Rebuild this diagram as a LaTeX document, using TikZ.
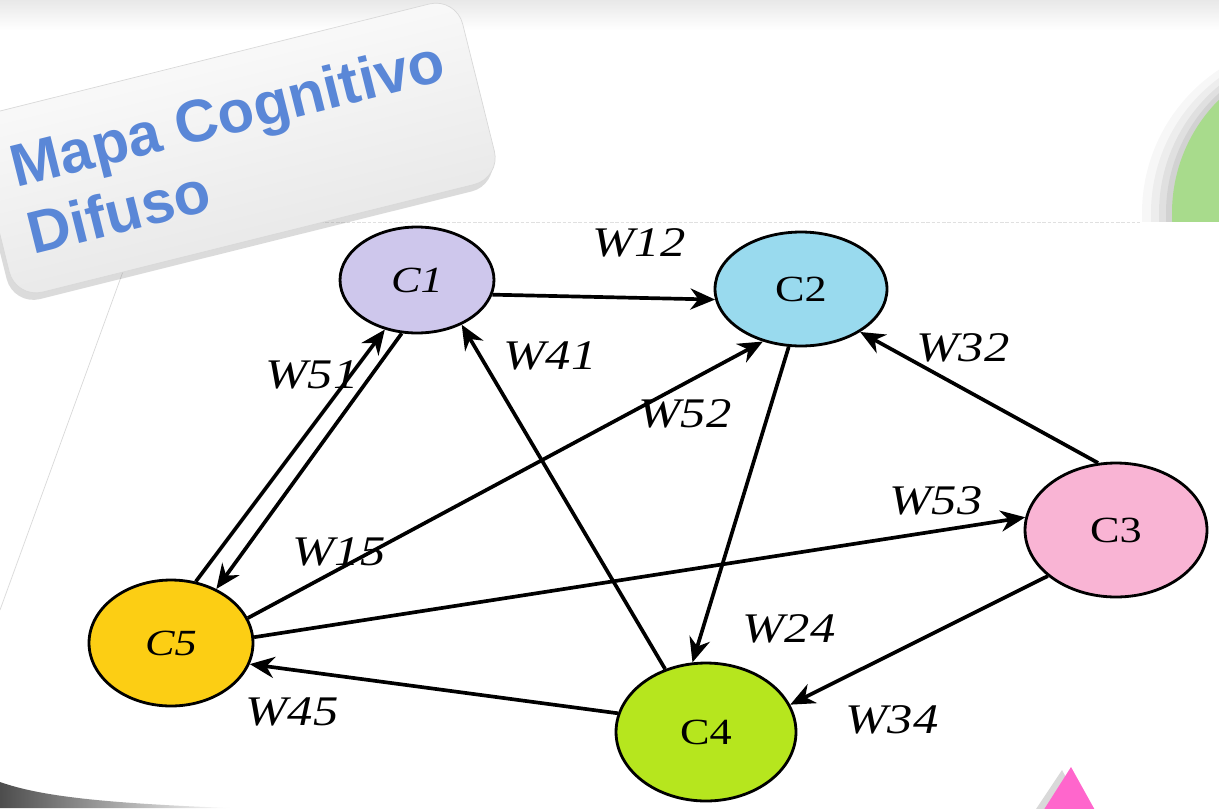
\documentclass[tikz,border=0pt]{standalone}
\usepackage{fontspec}
\setmainfont{Liberation Serif}
\newfontfamily\titlefont{Liberation Sans}
\usetikzlibrary{arrows.meta,shadows,shapes.geometric}
\definecolor{cone}{RGB}{206,199,236}
\definecolor{ctwo}{RGB}{153,218,238}
\definecolor{cthree}{RGB}{249,180,212}
\definecolor{cfour}{RGB}{182,230,30}
\definecolor{cfive}{RGB}{252,206,20}
\definecolor{titleblue}{RGB}{90,135,215}
\definecolor{leafgreen}{RGB}{168,219,140}
\definecolor{pinktri}{RGB}{255,102,204}
\newcommand\wlab[1]{\scalebox{1.2}[1]{\fontsize{24}{26}\selectfont\itshape #1}}
\newcommand\clab[1]{\scalebox{1.2}[1]{\fontsize{21}{24}\selectfont #1}}
\begin{document}
\begin{tikzpicture}[x=0.02cm,y=-0.02cm,
  concept/.style={ellipse, draw=black, line width=1.6pt, inner sep=0pt},
  arr/.style={line width=2.1pt, -{Stealth[length=14pt,width=12pt,inset=4.5pt]}},
  wl/.style={inner sep=0pt},
  titlebox/.style={rectangle, rounded corners=0.55cm, draw=black!15, line width=0.4pt,
    top color=white, bottom color=white!89!black, shading angle=14,
    drop shadow={shadow xshift=-1.5pt, shadow yshift=-4pt, opacity=0.28}},
  titletext/.style={inner sep=0pt, text=titleblue, align=left,
    font=\titlefont\bfseries\fontsize{34}{39.5}\selectfont}
]
\useasboundingbox (0,0) rectangle (1219,808);
\clip (0,0) rectangle (1219,808);
\fill[white] (0,0) rectangle (1219,808);
\shade[top color=black!9, bottom color=white] (0,0) rectangle (1219,30);

% green circle (partly hidden)
\fill[black,opacity=0.03] (1314,213) circle (172);
\fill[black,opacity=0.04] (1319,213) circle (168);
\fill[black,opacity=0.05] (1324,213) circle (165);
\fill[black,opacity=0.06] (1328,213) circle (162);
\fill[leafgreen] (1332,213) circle (160);

% paper sheet
\fill[white] (141,222) -- (1219,222) -- (1219,808) -- (0,808) -- (0,610) -- cycle;
\draw[black!12, line width=0.5pt, dash pattern=on 2pt off 1pt] (141,222) -- (1140,222);
\draw[black!15, line width=0.4pt] (141,222) -- (0,610);
\shade[left color=black!70, right color=white] (0,782) .. controls (40,796) and (100,803) .. (230,808) -- (0,808) -- cycle;

% pink triangle
\fill[black,opacity=0.15] (1062,770) -- (1022,830) -- (1095,830) -- cycle;
\fill[pinktri] (1071,767) -- (1031,830) -- (1106,830) -- cycle;

% title box
\node[titlebox, rotate=14, minimum width=10cm, minimum height=3.72cm] (box) at (236,148) {};
\node[titletext, anchor=base west, rotate=14] (title) at (33,255) {Mapa Cognitivo\\Difuso};

% concepts
\node[concept, fill=cone, minimum width=3.08cm, minimum height=2.12cm] (c1) at (417,280) {\clab{\itshape C1}};
\node[concept, fill=ctwo, minimum width=3.44cm, minimum height=2.28cm] (c2) at (801,289) {\clab{C2}};
\node[concept, fill=cthree, minimum width=3.64cm, minimum height=2.68cm] (c3) at (1116,530) {\clab{C3}};
\node[concept, fill=cfour, minimum width=3.6cm, minimum height=2.76cm] (c4) at (706,732) {\clab{C4}};
\node[concept, fill=cfive, minimum width=3.28cm, minimum height=2.52cm] (c5) at (171,643) {\clab{\itshape C5}};

% connectors
\draw[arr] (c1.-11) -- (c2.187);
\draw[arr] (c2.-102) -- (c4.101);
\draw[arr] (c3.105) -- (c2.-36);
\draw[arr] (c3.214) -- (c4.18);
\draw[arr] (c4.123) -- (c1.-45);
\draw[arr] (c4.168) -- (c5.-15);
\draw[arr] (c5.68) -- (c1.-123);
\draw[arr] (c1.-106) -- (c5.50);
\draw[arr] (c5.18) -- (c2.-126);
\draw[arr] (c5.4) -- (c3.172);

% weights
\node[wl] (w12) at (639,243) {\wlab{W12}};
\node[wl] (w41) at (550,356) {\wlab{W41}};
\node[wl] (w51) at (312,375) {\wlab{W51}};
\node[wl] (w52) at (685,414) {\wlab{W52}};
\node[wl] (w32) at (963,348) {\wlab{W32}};
\node[wl] (w53) at (936,501) {\wlab{W53}};
\node[wl] (w15) at (339,552) {\wlab{W15}};
\node[wl] (w24) at (789,629) {\wlab{W24}};
\node[wl] (w34) at (892,720) {\wlab{W34}};
\node[wl] (w45) at (292,712) {\wlab{W45}};
\end{tikzpicture}
\end{document}
